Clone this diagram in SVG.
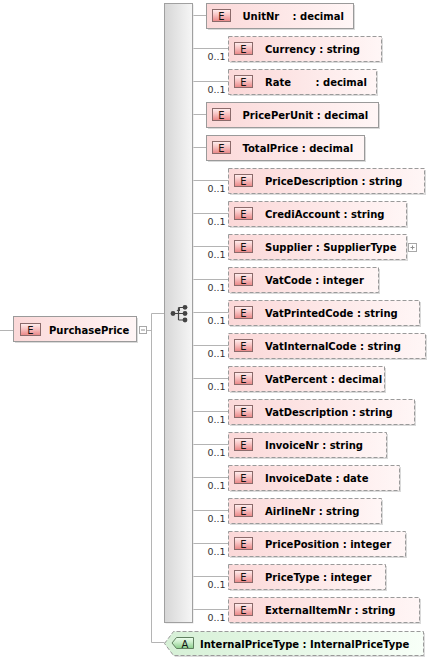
<svg xmlns="http://www.w3.org/2000/svg" width="438" height="660" viewBox="0 0 438 660">
<defs>
<linearGradient id="gEl" x1="0" y1="0" x2="1" y2="0"><stop offset="0" stop-color="#fbd8d8"/><stop offset="1" stop-color="#fff6f6"/></linearGradient>
<linearGradient id="gBadge" x1="0" y1="0" x2="0" y2="1"><stop offset="0" stop-color="#fff0f0"/><stop offset="0.45" stop-color="#f8c4c4"/><stop offset="1" stop-color="#e98585"/></linearGradient>
<linearGradient id="gSeq" x1="0" y1="0" x2="1" y2="0"><stop offset="0" stop-color="#d6d6d6"/><stop offset="1" stop-color="#f6f6f6"/></linearGradient>
<linearGradient id="gAttr" x1="0" y1="0" x2="1" y2="0"><stop offset="0" stop-color="#d6f0d6"/><stop offset="1" stop-color="#f8fff8"/></linearGradient>
<linearGradient id="gABadge" x1="0" y1="0" x2="0" y2="1"><stop offset="0" stop-color="#f0fff0"/><stop offset="0.45" stop-color="#c8ecc8"/><stop offset="1" stop-color="#88cc88"/></linearGradient>
</defs>
<style>
.conn{fill:none;stroke:#b4b4b4;stroke-width:1}
.sh{fill:#dadada}
.box{fill:url(#gEl);stroke:#9a9a9a;stroke-width:1}
.opt{stroke-dasharray:4 2}
.badge{fill:url(#gBadge);stroke:#8a6a6a;stroke-width:1}
.bl{font-family:"DejaVu Sans",sans-serif;font-size:10px;fill:#111;text-anchor:middle}
.lbl{font-family:"DejaVu Sans",sans-serif;font-size:10px;font-weight:bold;fill:#000}
.occ{font-family:"DejaVu Sans",sans-serif;font-size:9.5px;fill:#333}
.tog{fill:#fff;stroke:#a8a8a8;stroke-width:1}
.togl{stroke:#909090;stroke-width:1}
</style>

<g id="connectors">
<path class="conn" d="M0,330.5H13.5 M146.5,330.5H151.5 M151.5,313.5V642.5 M151.5,313.5H164.5 M151.5,642.5H164.5"/>
<path class="conn" d="M193,15.5H206.5 M193,48.5H228.5 M193,81.5H228.5 M193,114.5H206.5 M193,147.5H206.5 M193,180.5H228.5 M193,213.5H228.5 M193,246.5H228.5 M193,279.5H228.5 M193,312.5H228.5 M193,345.5H228.5 M193,378.5H228.5 M193,411.5H228.5 M193,444.5H228.5 M193,477.5H228.5 M193,510.5H228.5 M193,543.5H228.5 M193,576.5H228.5 M193,609.5H228.5"/>
</g>

<g id="PurchasePrice">
<rect class="sh" x="15" y="318" width="123" height="25"/>
<rect class="box" x="13.5" y="316.5" width="123" height="25"/>
<rect class="badge" x="20.5" y="323.5" width="20" height="12"/>
<text class="bl" x="30.5" y="333.5">E</text>
<text class="lbl" x="49" y="333.5">PurchasePrice</text>
<rect class="tog" x="139.5" y="326.5" width="7" height="7"/>
<path class="togl" d="M141,330H145"/>
</g>

<g id="sequence">
<rect x="165.5" y="4.5" width="28" height="619" fill="#e2e2e2"/>
<rect x="164.5" y="3.5" width="28" height="619" fill="url(#gSeq)" stroke="#a0a0a0"/>
<g fill="#444" stroke="#444" stroke-width="1.2">
<path d="M173,313.5H178.5 M178.5,307.5V320 M178.5,307.5H185 M178.5,313.5H185 M178.5,320H185" fill="none"/>
<path d="M176.5,311 L180,307.5 L180,311Z" stroke="none"/>
<circle cx="173" cy="313.5" r="2.4" stroke="none"/>
<circle cx="185" cy="307.3" r="2.4" stroke="none"/>
<circle cx="185" cy="313.5" r="2.4" stroke="none"/>
<circle cx="185" cy="320" r="2.4" stroke="none"/>
</g>
</g>

<g id="UnitNr">
<rect class="sh" x="208" y="5" width="147" height="25"/>
<rect class="box" x="206.5" y="3.5" width="147" height="25"/>
<rect class="badge" x="212.5" y="9.5" width="18" height="12"/>
<text class="bl" x="221.5" y="19.5">E</text>
<text class="lbl" x="242.5" y="19.5">UnitNr</text><text class="lbl" x="292.5" y="19.5">: decimal</text>
</g>

<g id="Currency">
<rect class="sh" x="230" y="38" width="153" height="25"/>
<rect class="box opt" x="228.5" y="36.5" width="153" height="25"/>
<rect class="badge" x="234.5" y="42.5" width="18" height="12"/>
<text class="bl" x="243.5" y="52.5">E</text>
<text class="lbl" x="265" y="52.5">Currency : string</text>
<text class="occ" x="207.5" y="60">0..1</text>
</g>

<g id="Rate">
<rect class="sh" x="230" y="71" width="148" height="25"/>
<rect class="box opt" x="228.5" y="69.5" width="148" height="25"/>
<rect class="badge" x="234.5" y="75.5" width="18" height="12"/>
<text class="bl" x="243.5" y="85.5">E</text>
<text class="lbl" x="265" y="85.5">Rate</text><text class="lbl" x="315.5" y="85.5">: decimal</text>
<text class="occ" x="207.5" y="93">0..1</text>
</g>

<g id="PricePerUnit">
<rect class="sh" x="208" y="104" width="172" height="25"/>
<rect class="box" x="206.5" y="102.5" width="172" height="25"/>
<rect class="badge" x="212.5" y="108.5" width="18" height="12"/>
<text class="bl" x="221.5" y="118.5">E</text>
<text class="lbl" x="242.5" y="118.5">PricePerUnit : decimal</text>
</g>

<g id="TotalPrice">
<rect class="sh" x="208" y="137" width="158" height="25"/>
<rect class="box" x="206.5" y="135.5" width="158" height="25"/>
<rect class="badge" x="212.5" y="141.5" width="18" height="12"/>
<text class="bl" x="221.5" y="151.5">E</text>
<text class="lbl" x="242.5" y="151.5">TotalPrice : decimal</text>
</g>

<g id="PriceDescription">
<rect class="sh" x="230" y="170" width="196" height="25"/>
<rect class="box opt" x="228.5" y="168.5" width="196" height="25"/>
<rect class="badge" x="234.5" y="174.5" width="18" height="12"/>
<text class="bl" x="243.5" y="184.5">E</text>
<text class="lbl" x="265" y="184.5">PriceDescription : string</text>
<text class="occ" x="207.5" y="192">0..1</text>
</g>

<g id="CrediAccount">
<rect class="sh" x="230" y="203" width="178" height="25"/>
<rect class="box opt" x="228.5" y="201.5" width="178" height="25"/>
<rect class="badge" x="234.5" y="207.5" width="18" height="12"/>
<text class="bl" x="243.5" y="217.5">E</text>
<text class="lbl" x="265" y="217.5">CrediAccount : string</text>
<text class="occ" x="207.5" y="225">0..1</text>
</g>

<g id="Supplier">
<rect class="sh" x="230" y="236" width="178" height="25"/>
<rect class="box opt" x="228.5" y="234.5" width="178" height="25"/>
<rect class="badge" x="234.5" y="240.5" width="18" height="12"/>
<text class="bl" x="243.5" y="250.5">E</text>
<text class="lbl" x="265" y="250.5">Supplier : SupplierType</text>
<text class="occ" x="207.5" y="258">0..1</text>
<rect class="tog" x="408.5" y="243.5" width="8" height="8"/>
<path class="togl" d="M410.5,247.5H414.5 M412.5,245.5V249.5"/>
</g>

<g id="VatCode">
<rect class="sh" x="230" y="269" width="150" height="25"/>
<rect class="box opt" x="228.5" y="267.5" width="150" height="25"/>
<rect class="badge" x="234.5" y="273.5" width="18" height="12"/>
<text class="bl" x="243.5" y="283.5">E</text>
<text class="lbl" x="265" y="283.5">VatCode : integer</text>
<text class="occ" x="207.5" y="291">0..1</text>
</g>

<g id="VatPrintedCode">
<rect class="sh" x="230" y="302" width="191" height="25"/>
<rect class="box opt" x="228.5" y="300.5" width="191" height="25"/>
<rect class="badge" x="234.5" y="306.5" width="18" height="12"/>
<text class="bl" x="243.5" y="316.5">E</text>
<text class="lbl" x="265" y="316.5">VatPrintedCode : string</text>
<text class="occ" x="207.5" y="324">0..1</text>
</g>

<g id="VatInternalCode">
<rect class="sh" x="230" y="335" width="197" height="25"/>
<rect class="box opt" x="228.5" y="333.5" width="197" height="25"/>
<rect class="badge" x="234.5" y="339.5" width="18" height="12"/>
<text class="bl" x="243.5" y="349.5">E</text>
<text class="lbl" x="265" y="349.5">VatInternalCode : string</text>
<text class="occ" x="207.5" y="357">0..1</text>
</g>

<g id="VatPercent">
<rect class="sh" x="230" y="368" width="156" height="25"/>
<rect class="box opt" x="228.5" y="366.5" width="156" height="25"/>
<rect class="badge" x="234.5" y="372.5" width="18" height="12"/>
<text class="bl" x="243.5" y="382.5">E</text>
<text class="lbl" x="265" y="382.5">VatPercent : decimal</text>
<text class="occ" x="207.5" y="390">0..1</text>
</g>

<g id="VatDescription">
<rect class="sh" x="230" y="401" width="186" height="25"/>
<rect class="box opt" x="228.5" y="399.5" width="186" height="25"/>
<rect class="badge" x="234.5" y="405.5" width="18" height="12"/>
<text class="bl" x="243.5" y="415.5">E</text>
<text class="lbl" x="265" y="415.5">VatDescription : string</text>
<text class="occ" x="207.5" y="423">0..1</text>
</g>

<g id="InvoiceNr">
<rect class="sh" x="230" y="434" width="158" height="25"/>
<rect class="box opt" x="228.5" y="432.5" width="158" height="25"/>
<rect class="badge" x="234.5" y="438.5" width="18" height="12"/>
<text class="bl" x="243.5" y="448.5">E</text>
<text class="lbl" x="265" y="448.5">InvoiceNr : string</text>
<text class="occ" x="207.5" y="456">0..1</text>
</g>

<g id="InvoiceDate">
<rect class="sh" x="230" y="467" width="171" height="25"/>
<rect class="box opt" x="228.5" y="465.5" width="171" height="25"/>
<rect class="badge" x="234.5" y="471.5" width="18" height="12"/>
<text class="bl" x="243.5" y="481.5">E</text>
<text class="lbl" x="265" y="481.5">InvoiceDate : date</text>
<text class="occ" x="207.5" y="489">0..1</text>
</g>

<g id="AirlineNr">
<rect class="sh" x="230" y="500" width="153" height="25"/>
<rect class="box opt" x="228.5" y="498.5" width="153" height="25"/>
<rect class="badge" x="234.5" y="504.5" width="18" height="12"/>
<text class="bl" x="243.5" y="514.5">E</text>
<text class="lbl" x="265" y="514.5">AirlineNr : string</text>
<text class="occ" x="207.5" y="522">0..1</text>
</g>

<g id="PricePosition">
<rect class="sh" x="230" y="533" width="177" height="25"/>
<rect class="box opt" x="228.5" y="531.5" width="177" height="25"/>
<rect class="badge" x="234.5" y="537.5" width="18" height="12"/>
<text class="bl" x="243.5" y="547.5">E</text>
<text class="lbl" x="265" y="547.5">PricePosition : integer</text>
<text class="occ" x="207.5" y="555">0..1</text>
</g>

<g id="PriceType">
<rect class="sh" x="230" y="566" width="157" height="25"/>
<rect class="box opt" x="228.5" y="564.5" width="157" height="25"/>
<rect class="badge" x="234.5" y="570.5" width="18" height="12"/>
<text class="bl" x="243.5" y="580.5">E</text>
<text class="lbl" x="265" y="580.5">PriceType : integer</text>
<text class="occ" x="207.5" y="588">0..1</text>
</g>

<g id="ExternalItemNr">
<rect class="sh" x="230" y="599" width="191" height="25"/>
<rect class="box opt" x="228.5" y="597.5" width="191" height="25"/>
<rect class="badge" x="234.5" y="603.5" width="18" height="12"/>
<text class="bl" x="243.5" y="613.5">E</text>
<text class="lbl" x="265" y="613.5">ExternalItemNr : string</text>
<text class="occ" x="207.5" y="621">0..1</text>
</g>

<g id="InternalPriceType">
<polygon points="166,645 175,633 425,633 425,657 175,657" fill="#dcdcdc"/>
<polygon points="164.5,643.5 173.5,631.5 423.5,631.5 423.5,655.5 173.5,655.5" fill="url(#gAttr)" stroke="#9a9a9a" stroke-dasharray="4 2"/>
<polygon points="172,643 176.5,637.5 193.5,637.5 193.5,648.5 176.5,648.5" fill="url(#gABadge)" stroke="#5f7f5f"/>
<text class="bl" x="185" y="647.5">A</text>
<text class="lbl" x="200" y="647.5">InternalPriceType : InternalPriceType</text>
</g>
</svg>
